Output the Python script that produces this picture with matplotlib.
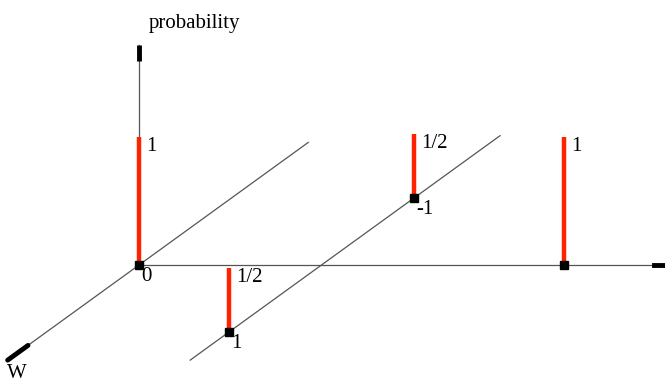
import numpy as np
import matplotlib.pyplot as plt

# outcomes: position along the horizontal axis, W value, probability
x_vals = [0.0, 1.0, 1.0, 2.33]
w_vals = [0.0, 1.0, -1.0, 0.0]
probs = [1.0, 0.5, 0.5, 1.0]
prob_labels = ["1", "1/2", "1/2", "1"]
w_labels = ["0", "1", "-1", ""]

# oblique projection (pixels per unit)
origin = np.array([139.0, 265.0])
ex = np.array([182.5, 0.0])
ew = np.array([-92.5, 67.0])
ep = np.array([0.0, -128.0])


def proj(x, w, p=0.0):
    return origin + x * ex + w * ew + p * ep


fig = plt.figure(figsize=(6.65, 3.83), dpi=100)
ax = fig.add_axes([0, 0, 1, 1])
ax.set_xlim(0, 665)
ax.set_ylim(383, 0)
ax.axis('off')

grey = '#555555'
font = dict(family='Liberation Serif', fontsize=15, color='black')


def seg(a, b, **kw):
    ax.plot([a[0], b[0]], [a[1], b[1]], **kw)


# axes
seg(proj(0, 0, 0), proj(0, 0, 1.72), color=grey, lw=0.9)
seg(proj(0, 0, 1.59), proj(0, 0, 1.72), color='black', lw=3.5, solid_capstyle='butt')
seg(proj(0, 0), proj(2.89, 0), color=grey, lw=0.9)
seg(proj(2.82, 0), proj(2.89, 0), color='black', lw=3.5)
seg(proj(0, -1.83), proj(0, 1.42), color=grey, lw=0.9)
seg(proj(0, 1.2), proj(0, 1.42), color='black', lw=3.5, solid_capstyle='round')
# line parallel to W through the second group
seg(proj(1.0, -1.93), proj(1.0, 1.42), color=grey, lw=0.9)

# probability bars
for x, w, p, pl, wl in zip(x_vals, w_vals, probs, prob_labels, w_labels):
    base = proj(x, w)
    top = proj(x, w, p)
    seg(base, top, color='#ff2200', lw=3.2, solid_capstyle='butt', zorder=3)
    ax.plot(base[0], base[1], marker='s', ms=5.5, color='black', zorder=4)
    ax.text(top[0] + 7, top[1] + 14, pl, ha='left', va='baseline', **font)
    if wl:
        ax.text(base[0] + 2, base[1] + 16, wl, ha='left', va='baseline', **font)

ax.text(149, 28, "probability", ha='left', va='baseline', **font)
ax.text(7, 378, "W", ha='left', va='baseline', **font)

fig.savefig('out.png', dpi=100)
